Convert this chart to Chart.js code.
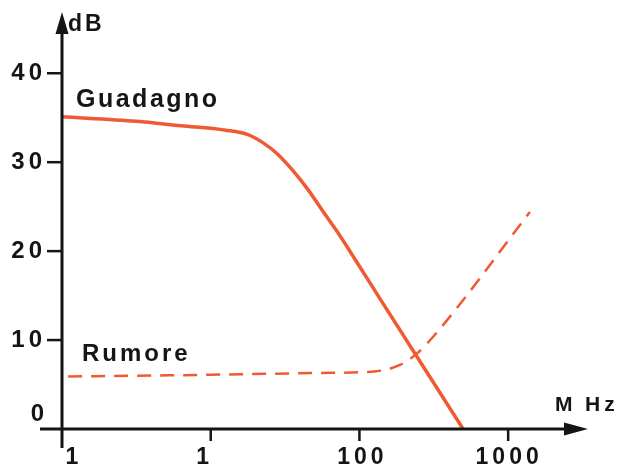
<!DOCTYPE html>
<html>
<head>
<meta charset="utf-8">
<script src="https://cdn.jsdelivr.net/npm/chart.js@4/dist/chart.umd.min.js"></script>
<style>
  html, body { margin: 0; background: #fff; }
  canvas { display: block; }
</style>
</head>
<body>
<canvas id="graficoGuadagno" width="622" height="468"></canvas>
<script>
// valori (MHz, dB)
const freqGuadagno = [1, 3.16, 6.3, 12.6, 17.8, 22.4, 28.2, 35.5, 44.7, 56.2, 70.8, 100, 138, 498];
const dbGuadagno = [35.1, 34.6, 34.1, 33.6, 33.1, 32.2, 30.9, 29.1, 27.0, 24.6, 22.2, 18.3, 14.6, 0];
const freqRumore = [1.1, 10, 54, 130, 187, 244, 349, 1400];
const dbRumore = [5.9, 6.1, 6.3, 6.5, 7.2, 8.5, 11.3, 24.4];

const xTicks = [1, 10, 100, 1000];
const xTickLabels = ['1', '1', '100', '1000'];
const yTicks = [0, 10, 20, 30, 40];
const yTickLabels = ['0', '10', '20', '30', '40'];

const ARANCIO = '#f05a32';
const NERO = '#151515';
const FONT = '"Liberation Sans", Arial, sans-serif';

const punti = (xs, ys) => xs.map((x, i) => ({ x: x, y: ys[i] }));

function testo(ctx, str, x, y, size, spacing, align) {
  ctx.font = 'bold ' + size + 'px ' + FONT;
  ctx.letterSpacing = spacing + 'px';
  const w = ctx.measureText(str).width - spacing;
  let left = x;
  if (align === 'center') left = x - w / 2;
  if (align === 'right') left = x - w;
  ctx.textAlign = 'left';
  ctx.fillText(str, left, y);
}

const assi = {
  id: 'assi',
  afterDatasetsDraw(chart) {
    const ctx = chart.ctx;
    const sx = chart.scales.x;
    const sy = chart.scales.y;
    const x0 = sx.getPixelForValue(1);
    const y0 = sy.getPixelForValue(0);

    ctx.save();
    ctx.strokeStyle = NERO;
    ctx.fillStyle = NERO;
    ctx.lineWidth = 3;

    // asse y con freccia
    ctx.beginPath();
    ctx.moveTo(x0, 30);
    ctx.lineTo(x0, y0 + 19);
    ctx.stroke();
    ctx.beginPath();
    ctx.moveTo(x0, 12);
    ctx.lineTo(x0 - 6.5, 34);
    ctx.lineTo(x0 + 6.5, 34);
    ctx.closePath();
    ctx.fill();

    // asse x con freccia
    ctx.beginPath();
    ctx.moveTo(40, y0);
    ctx.lineTo(570, y0);
    ctx.stroke();
    ctx.beginPath();
    ctx.moveTo(588, y0);
    ctx.lineTo(564, y0 - 6.5);
    ctx.lineTo(564, y0 + 6.5);
    ctx.closePath();
    ctx.fill();

    ctx.textBaseline = 'middle';

    // tacche e etichette y
    yTicks.forEach((v, i) => {
      const py = sy.getPixelForValue(v);
      if (v === 0) {
        testo(ctx, yTickLabels[i], 44, py - 15, 24, 4, 'right');
        return;
      }
      ctx.lineWidth = 2.5;
      ctx.beginPath();
      ctx.moveTo(47, py);
      ctx.lineTo(x0, py);
      ctx.stroke();
      testo(ctx, yTickLabels[i], 42, py, 24, 4, 'right');
    });

    // tacche e etichette x
    const sposta = [10, -8, 1, -1];
    xTicks.forEach((v, i) => {
      const px = sx.getPixelForValue(v);
      if (i > 0) {
        ctx.lineWidth = 2.5;
        ctx.beginPath();
        ctx.moveTo(px, y0);
        ctx.lineTo(px, y0 + 12);
        ctx.stroke();
      }
      testo(ctx, xTickLabels[i], px + sposta[i], 458, 23, 4, 'center');
    });

    // unita
    ctx.textBaseline = 'alphabetic';
    testo(ctx, 'dB', 68, 31, 23, 3, 'left');
    testo(ctx, 'M', 555, 411, 21, 0, 'left');
    testo(ctx, 'Hz', 585, 411, 21, 4, 'left');

    // nomi delle curve
    const ds = chart.data.datasets;
    testo(ctx, ds[0].label, 76, 107, 25, 2.5, 'left');
    testo(ctx, ds[1].label, 82, 361, 24, 3, 'left');

    ctx.restore();
  }
};

const canvas = document.getElementById('graficoGuadagno');

new Chart(canvas, {
  type: 'line',
  data: {
    datasets: [
      {
        label: 'Guadagno',
        data: punti(freqGuadagno, dbGuadagno),
        borderColor: ARANCIO,
        borderWidth: 3.5,
        pointRadius: 0,
        tension: 0.4,
        cubicInterpolationMode: 'monotone',
        clip: false
      },
      {
        label: 'Rumore',
        data: punti(freqRumore, dbRumore),
        borderColor: ARANCIO,
        borderWidth: 2.5,
        borderDash: [14, 9],
        pointRadius: 0,
        tension: 0.4,
        cubicInterpolationMode: 'monotone',
        clip: false
      }
    ]
  },
  options: {
    responsive: false,
    animation: false,
    layout: { padding: { left: 62, right: 35, top: 11, bottom: 39 } },
    scales: {
      x: { type: 'logarithmic', min: 1, max: 3390, display: false },
      y: { type: 'linear', min: 0, max: 47, display: false }
    },
    plugins: {
      legend: { display: false },
      tooltip: { enabled: false }
    }
  },
  plugins: [assi]
});
</script>
</body>
</html>
